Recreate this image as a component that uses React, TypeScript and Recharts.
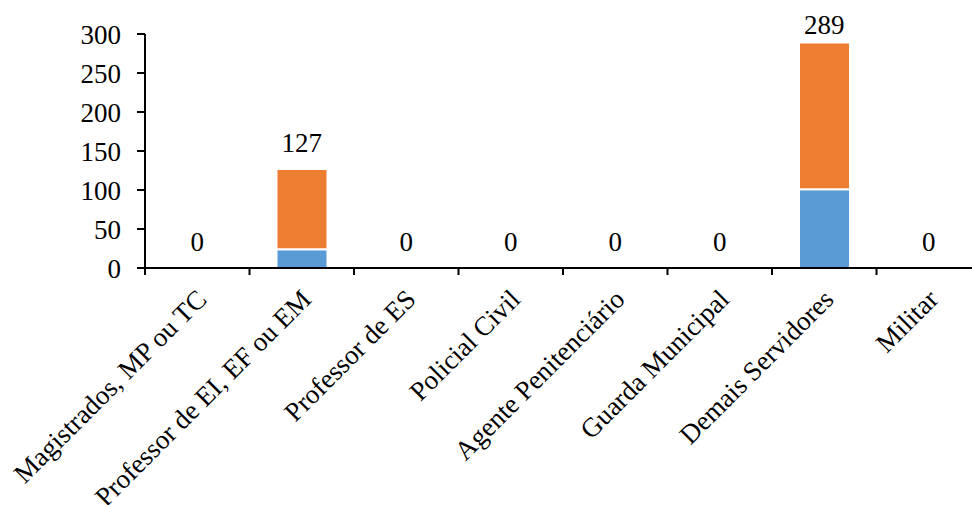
import React from "react";
import { ComposedChart, Bar, Line, XAxis, YAxis, LabelList } from "recharts";

const categorias = [
  "Magistrados, MP ou TC",
  "Professor de EI, EF ou EM",
  "Professor de ES",
  "Policial Civil",
  "Agente Penitenciário",
  "Guarda Municipal",
  "Demais Servidores",
  "Militar",
];
const serieAzul = [0, 24, 0, 0, 0, 0, 101, 0];
const serieLaranja = [0, 103, 0, 0, 0, 0, 188, 0];
const yTicks = [0, 50, 100, 150, 200, 250, 300];

const dados = categorias.map((c, i) => ({
  categoria: c,
  azul: serieAzul[i],
  laranja: serieLaranja[i],
  total: serieAzul[i] + serieLaranja[i],
}));

const FONTE = "'Liberation Serif', 'Times New Roman', serif";

// rótulo inclinado + marca de divisão entre categorias
const TickCategoria = (props: any) => {
  const { x, y, payload } = props;
  const off = payload?.offset ?? 52;
  const ax = x + 11;
  const ay = y + 25;
  return (
    <g>
      <line x1={x - off} y1={y - 8} x2={x - off} y2={y - 1} stroke="#000" strokeWidth={2} />
      <text
        x={ax}
        y={ay}
        transform={`rotate(-45, ${ax}, ${ay})`}
        textAnchor="end"
        fontFamily={FONTE}
        fontSize={27}
        fill="#000"
      >
        {payload.value}
      </text>
    </g>
  );
};

// total acima da pilha (inclusive quando é zero)
const RotuloTotal = (props: any) => {
  const { x, y, value } = props;
  const ty = Math.max(y - 17, 34);
  return (
    <text x={x} y={ty} textAnchor="middle" fontFamily={FONTE} fontSize={27} fill="#000">
      {value}
    </text>
  );
};

export default function App() {
  return (
    <div
      style={{
        position: "fixed",
        left: 0,
        top: 0,
        width: 972,
        height: 505,
        overflow: "hidden",
        background: "#fff",
      }}
    >
      <ComposedChart
        width={985}
        height={505}
        data={dados}
        margin={{ top: 34, right: 4, bottom: 0, left: 0 }}
        barCategoryGap={27}
      >
        <XAxis
          dataKey="categoria"
          interval={0}
          height={237}
          tickSize={8}
          tickMargin={0}
          tickLine={false}
          axisLine={{ stroke: "#000", strokeWidth: 2 }}
          tick={<TickCategoria />}
        />
        <YAxis
          width={145}
          domain={[0, 300]}
          ticks={yTicks}
          tickSize={8}
          tickMargin={16}
          axisLine={{ stroke: "#000", strokeWidth: 2 }}
          tickLine={{ stroke: "#000", strokeWidth: 2 }}
          tick={{ fill: "#000", fontSize: 27, fontFamily: FONTE }}
        />
        <Bar dataKey="azul" stackId="a" fill="#5B9BD5" stroke="#fff" strokeWidth={2} isAnimationActive={false} />
        <Bar dataKey="laranja" stackId="a" fill="#ED7D31" stroke="#fff" strokeWidth={2} isAnimationActive={false} />
        <Line
          dataKey="total"
          stroke="none"
          dot={false}
          activeDot={false}
          legendType="none"
          isAnimationActive={false}
        >
          <LabelList dataKey="total" content={<RotuloTotal />} />
        </Line>
      </ComposedChart>
    </div>
  );
}
